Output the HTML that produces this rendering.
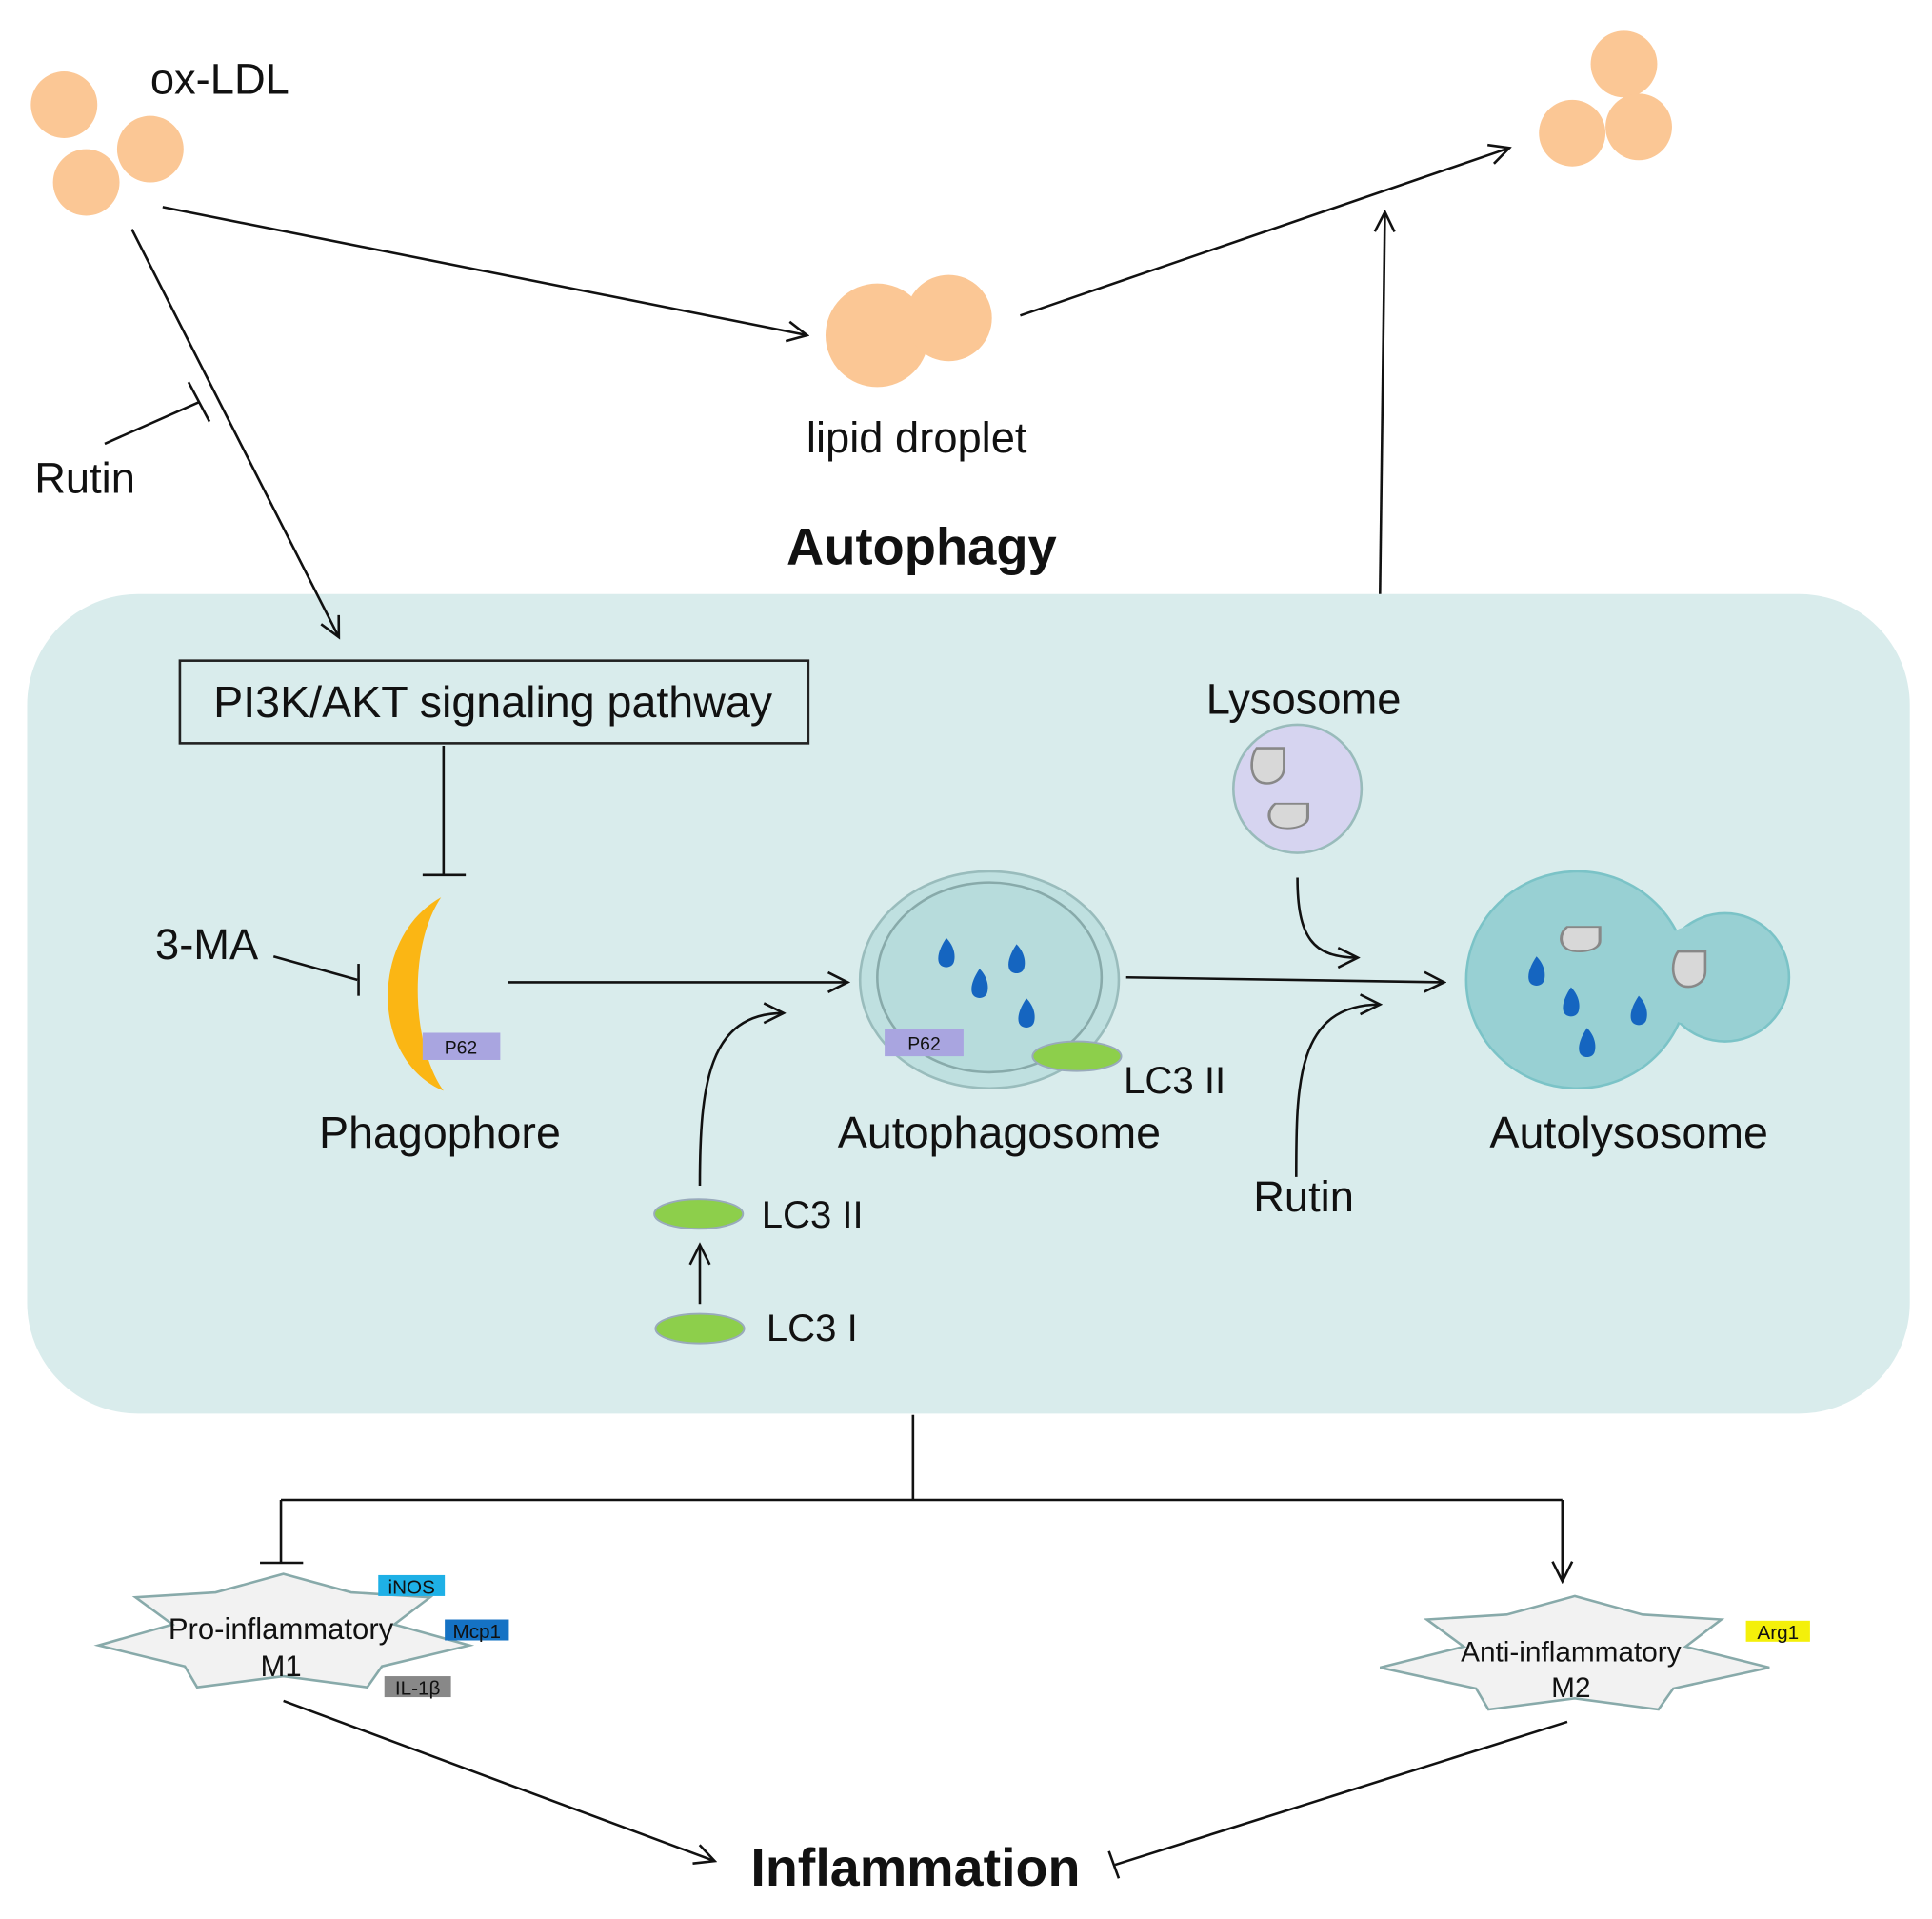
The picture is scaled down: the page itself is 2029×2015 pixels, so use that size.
<!DOCTYPE html>
<html><head><meta charset="utf-8"><style>html,body{margin:0;padding:0;background:#fff}svg{display:block}text{font-family:"Liberation Sans",Arial,sans-serif;fill:#111}</style></head>
<body>
<svg width="2029" height="2015" viewBox="0 0 1568 1557" preserveAspectRatio="none" xmlns="http://www.w3.org/2000/svg">
<defs>
<marker id="a" viewBox="0 0 20 20" refX="18" refY="10" markerWidth="20" markerHeight="20" markerUnits="userSpaceOnUse" orient="auto"><path d="M2,2 L18,10 L2,18" fill="none" stroke="#111" stroke-width="2"/></marker>
<g id="drop"><path d="M0,-14 C6,-8 8,0 6,6 C4,11 -4,11 -6,6 C-8,0 -4,-8 0,-14Z" fill="#1565c0"/></g>
<g id="gdrop"><path d="M0,0 L22,0 L22,16 C22,26 12,30 4,28 C-6,25 -6,8 0,0Z" fill="#d8d8d8" stroke="#888" stroke-width="2"/></g>
</defs>
<rect x="22" y="482" width="1528" height="665" rx="90" fill="#d9ecec"/>
<g stroke="#111" stroke-width="2" fill="none">
<line x1="132" y1="168" x2="655" y2="272" marker-end="url(#a)"/>
<line x1="828" y1="256" x2="1225" y2="120" marker-end="url(#a)"/>
<line x1="1120" y1="482" x2="1124" y2="172" marker-end="url(#a)"/>
<line x1="107" y1="186" x2="275" y2="517" marker-end="url(#a)"/>
<line x1="85" y1="360" x2="162" y2="326"/>
<line x1="153" y1="310" x2="170" y2="342"/>
</g>
<g fill="#fbc795">
<circle cx="52" cy="85" r="27"/><circle cx="122" cy="121" r="27"/><circle cx="70" cy="148" r="27"/>
<circle cx="1318" cy="52" r="27"/><circle cx="1276" cy="108" r="27"/><circle cx="1330" cy="103" r="27"/>
<circle cx="712" cy="272" r="42"/><circle cx="770" cy="258" r="35"/>
</g>
<text x="122" y="76" font-size="35">ox-LDL</text>
<text x="744" y="367" font-size="35" text-anchor="middle">lipid droplet</text>
<text x="28" y="400" font-size="35">Rutin</text>
<text x="748" y="458" font-size="42" font-weight="bold" text-anchor="middle">Autophagy</text>
<rect x="146" y="536" width="510" height="67" fill="none" stroke="#222" stroke-width="2"/>
<text x="400" y="582" font-size="36" text-anchor="middle">PI3K/AKT signaling pathway</text>
<g stroke="#111" stroke-width="2" fill="none">
<line x1="360" y1="605" x2="360" y2="710"/><line x1="343" y1="710" x2="378" y2="710"/>
<line x1="222" y1="776" x2="290" y2="795"/><line x1="291" y1="782" x2="291" y2="808"/>
<line x1="412" y1="797" x2="688" y2="797" marker-end="url(#a)"/>
<line x1="914" y1="793" x2="1172" y2="797" marker-end="url(#a)"/>
<line x1="568" y1="1058" x2="568" y2="1010" marker-end="url(#a)"/>
<path d="M568,962 C568,880 575,822 636,822" marker-end="url(#a)"/>
<path d="M1053,712 C1053,760 1065,777 1102,777" marker-end="url(#a)"/>
<path d="M1052,955 C1052,880 1052,815 1120,815" marker-end="url(#a)"/>
<line x1="741" y1="1148" x2="741" y2="1217"/>
<line x1="228" y1="1217" x2="1268" y2="1217"/>
<line x1="228" y1="1217" x2="228" y2="1268"/><line x1="211" y1="1268" x2="246" y2="1268"/>
<line x1="1268" y1="1217" x2="1268" y2="1283" marker-end="url(#a)"/>
<line x1="230" y1="1380" x2="580" y2="1510" marker-end="url(#a)"/>
<line x1="1272" y1="1397" x2="905" y2="1513"/><line x1="900" y1="1502" x2="908" y2="1524"/>
</g>
<path d="M358,728 C300,760 300,860 360,885 C335,850 330,770 358,728Z" fill="#fbb614"/>
<rect x="343" y="838" width="63" height="22" fill="#a9a5e0"/>
<text x="374" y="855" font-size="15" text-anchor="middle" fill="#333">P62</text>
<text x="126" y="778" font-size="35">3-MA</text>
<text x="357" y="931" font-size="36" text-anchor="middle">Phagophore</text>
<ellipse cx="803" cy="795" rx="105" ry="88" fill="#bfe0e0" stroke="#99bcbc" stroke-width="2"/>
<ellipse cx="803" cy="793" rx="91" ry="77" fill="#b7dcdc" stroke="#8aa" stroke-width="2"/>
<use href="#drop" x="768" y="775"/><use href="#drop" x="825" y="780"/><use href="#drop" x="795" y="800"/><use href="#drop" x="833" y="824"/>
<rect x="718" y="835" width="64" height="22" fill="#a9a5e0"/>
<text x="750" y="852" font-size="15" text-anchor="middle" fill="#333">P62</text>
<ellipse cx="874" cy="857" rx="36" ry="12" fill="#8dcf4b" stroke="#9ab" stroke-width="1.5"/>
<text x="912" y="887" font-size="31">LC3 II</text>
<text x="811" y="931" font-size="36" text-anchor="middle">Autophagosome</text>
<ellipse cx="567" cy="985" rx="36" ry="12" fill="#8dcf4b" stroke="#9ab" stroke-width="1.5"/>
<text x="618" y="996" font-size="31">LC3 II</text>
<ellipse cx="568" cy="1078" rx="36" ry="12" fill="#8dcf4b" stroke="#9ab" stroke-width="1.5"/>
<text x="622" y="1088" font-size="31">LC3 I</text>
<text x="1058" y="579" font-size="35" text-anchor="middle">Lysosome</text>
<circle cx="1053" cy="640" r="52" fill="#d6d4f0" stroke="#9bb" stroke-width="2"/>
<use href="#gdrop" x="1020" y="607"/><g transform="translate(1035,652) scale(1.2,0.7)"><use href="#gdrop"/></g>
<text x="1058" y="983" font-size="35" text-anchor="middle">Rutin</text>
<circle cx="1400" cy="793" r="52" fill="#98d0d3" stroke="#7bc3c7" stroke-width="2"/>
<ellipse cx="1280" cy="795" rx="90" ry="88" fill="#98d0d3" stroke="#7bc3c7" stroke-width="2"/>
<path d="M1352,760 C1365,750 1380,748 1398,752 L1398,825 C1380,835 1365,832 1352,825Z" fill="#98d0d3"/>
<use href="#gdrop" x="1362" y="772"/><g transform="translate(1272,752) scale(1.2,0.7)"><use href="#gdrop"/></g>
<use href="#drop" x="1247" y="790"/><use href="#drop" x="1275" y="815"/><use href="#drop" x="1330" y="822"/><use href="#drop" x="1288" y="848"/>
<text x="1322" y="931" font-size="36" text-anchor="middle">Autolysosome</text>
<polygon points="230,1277 285,1292 349,1296 320,1318 381,1335 310,1352 298,1369 230,1360 160,1369 150,1352 80,1335 140,1318 110,1296 175,1292" fill="#f2f2f2" stroke="#8aa" stroke-width="2"/>
<text x="228" y="1330" font-size="24" text-anchor="middle">Pro-inflammatory</text>
<text x="228" y="1360" font-size="24" text-anchor="middle">M1</text>
<rect x="307" y="1278" width="54" height="17" fill="#1eb0e6"/><text x="334" y="1293" font-size="16" text-anchor="middle">iNOS</text>
<rect x="361" y="1314" width="52" height="17" fill="#1572c4"/><text x="387" y="1329" font-size="16" text-anchor="middle">Mcp1</text>
<rect x="312" y="1360" width="54" height="17" fill="#888"/><text x="339" y="1375" font-size="16" text-anchor="middle">IL-1β</text>
<g transform="translate(1048,18)"><polygon points="230,1277 285,1292 349,1296 320,1318 388,1335 310,1352 298,1369 230,1360 160,1369 150,1352 72,1335 140,1318 110,1296 175,1292" fill="#f2f2f2" stroke="#8aa" stroke-width="2"/></g>
<text x="1275" y="1348" font-size="23" text-anchor="middle">Anti-inflammatory</text>
<text x="1275" y="1377" font-size="23" text-anchor="middle">M2</text>
<rect x="1417" y="1315" width="52" height="17" fill="#f4f00a"/><text x="1443" y="1330" font-size="16" text-anchor="middle">Arg1</text>
<text x="743" y="1530" font-size="43" font-weight="bold" text-anchor="middle">Inflammation</text>
</svg>
</body></html>
